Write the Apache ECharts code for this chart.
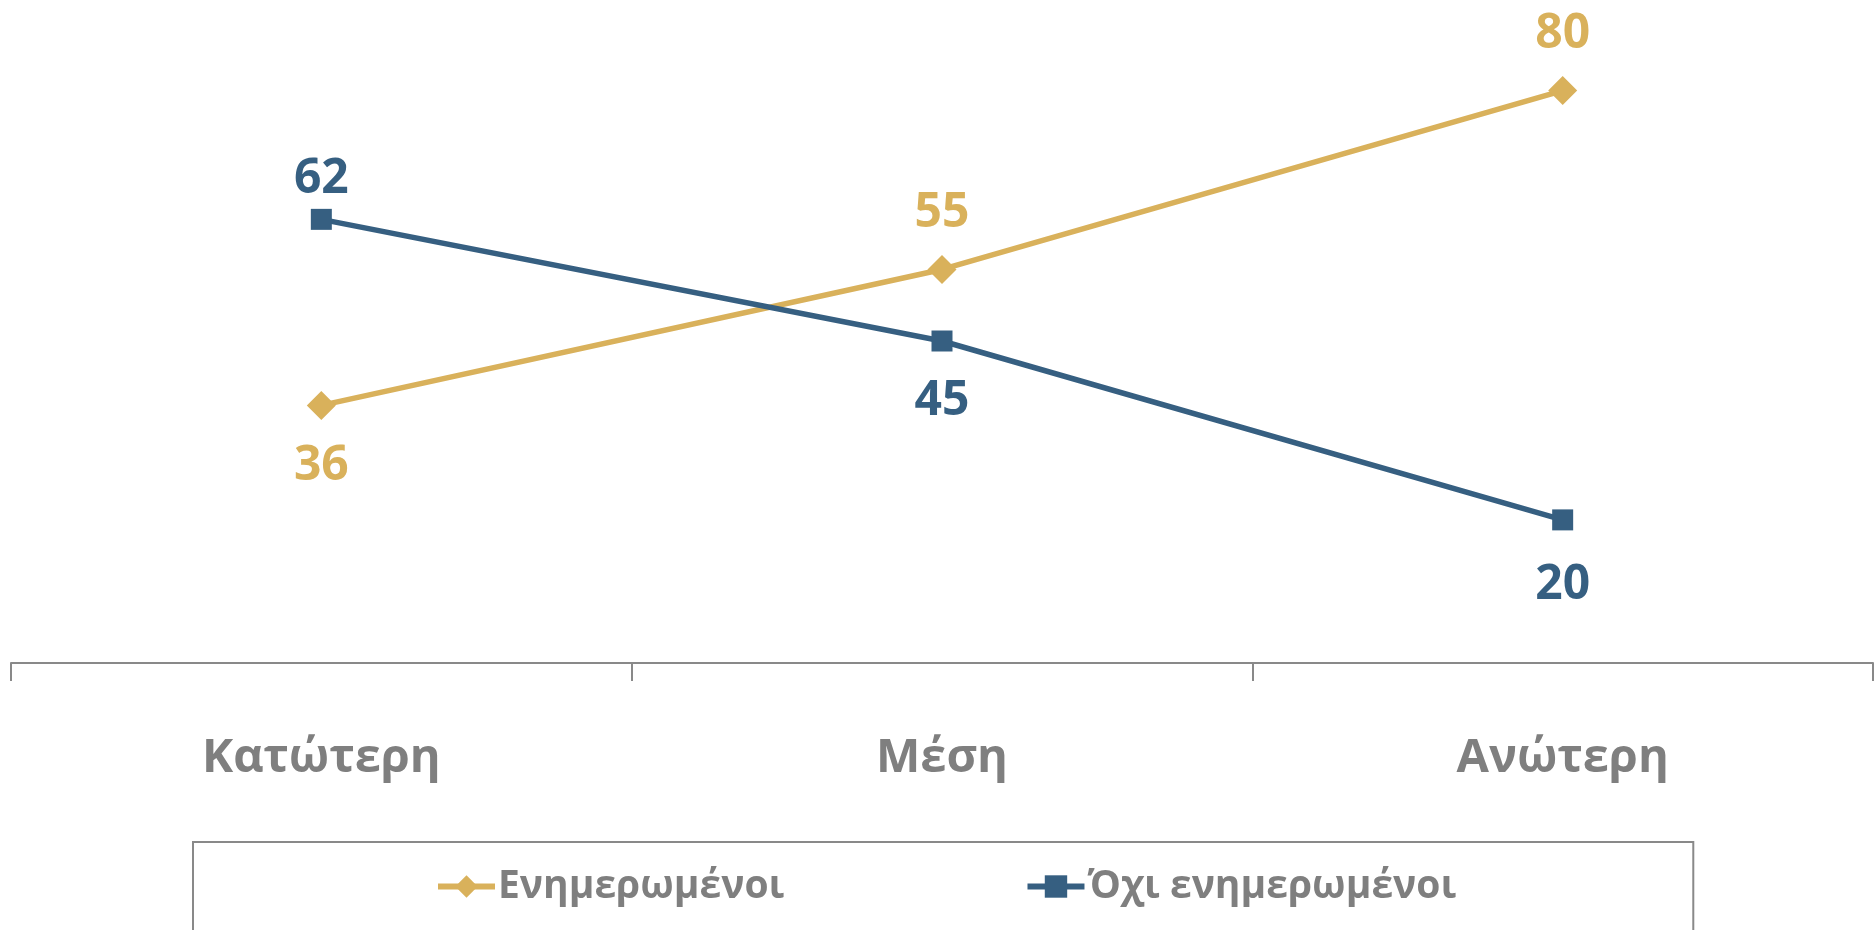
<!DOCTYPE html>
<html>
<head>
<meta charset="utf-8">
<script src="https://cdn.jsdelivr.net/npm/echarts@6/dist/echarts.min.js"></script>
<style>
    html, body { margin: 0; padding: 0; background: #fff; }
    #chart { width: 1874px; height: 930px; }
</style>
</head>
<body>
<div id="chart"></div>
<script>
const categories = ['Κατώτερη', 'Μέση', 'Ανώτερη']
const informed = [36, 55, 80]
const notInformed = [62, 45, 20]
const seriesNames = ['Ενημερωμένοι', 'Όχι ενημερωμένοι']

const GOLD = '#D9B15B'
const BLUE = '#365F81'
const GREY = '#7F7F7F'
const FONT = '"Open Sans", "Noto Sans", sans-serif'

// label placement per point (top / bottom and distance from the marker)
const goldLabels = [['bottom', 22], ['top', 18], ['top', 18]]
const blueLabels = [['top', 6], ['bottom', 26], ['bottom', 31]]

const withLabels = (values, labels) => values.map((v, i) => ({
    value: v,
    label: { position: labels[i][0], distance: labels[i][1] }
}))

let myChart = echarts.init(document.getElementById('chart'))
myChart.setOption({
    animation: false,
    grid: { left: 11, right: 1, top: 19, bottom: 267 },
    xAxis: {
        type: 'category',
        data: categories,
        boundaryGap: true,
        axisLine: { lineStyle: { color: '#898989', width: 2 } },
        axisTick: { show: true, length: 18, lineStyle: { color: '#898989', width: 2 } },
        axisLabel: {
            color: GREY,
            fontFamily: FONT,
            fontWeight: 'bold',
            fontSize: 47,
            margin: 72
        }
    },
    yAxis: { type: 'value', min: 0, max: 90, show: false },
    legend: {
        left: 193,
        top: 842,
        padding: [25, 237, 60, 242],
        borderColor: '#898989',
        borderWidth: 2,
        itemWidth: 57,
        itemHeight: 28,
        itemGap: 240,
        lineStyle: { width: 6 },
        textStyle: { color: GREY, fontFamily: FONT, fontWeight: 'bold', fontSize: 39, padding: [0, 0, 0, -2] }
    },
    series: [
        {
            name: seriesNames[0],
            type: 'line',
            data: withLabels(informed, goldLabels),
            symbol: 'diamond',
            symbolSize: 29,
            itemStyle: { color: GOLD },
            lineStyle: { color: GOLD, width: 5.5 },
            label: { show: true, color: GOLD, fontFamily: FONT, fontWeight: 'bold', fontSize: 48 }
        },
        {
            name: seriesNames[1],
            type: 'line',
            data: withLabels(notInformed, blueLabels),
            symbol: 'rect',
            symbolSize: 21,
            itemStyle: { color: BLUE },
            lineStyle: { color: BLUE, width: 5.5 },
            label: { show: true, color: BLUE, fontFamily: FONT, fontWeight: 'bold', fontSize: 48 }
        }
    ]
})
</script>
</body>
</html>
